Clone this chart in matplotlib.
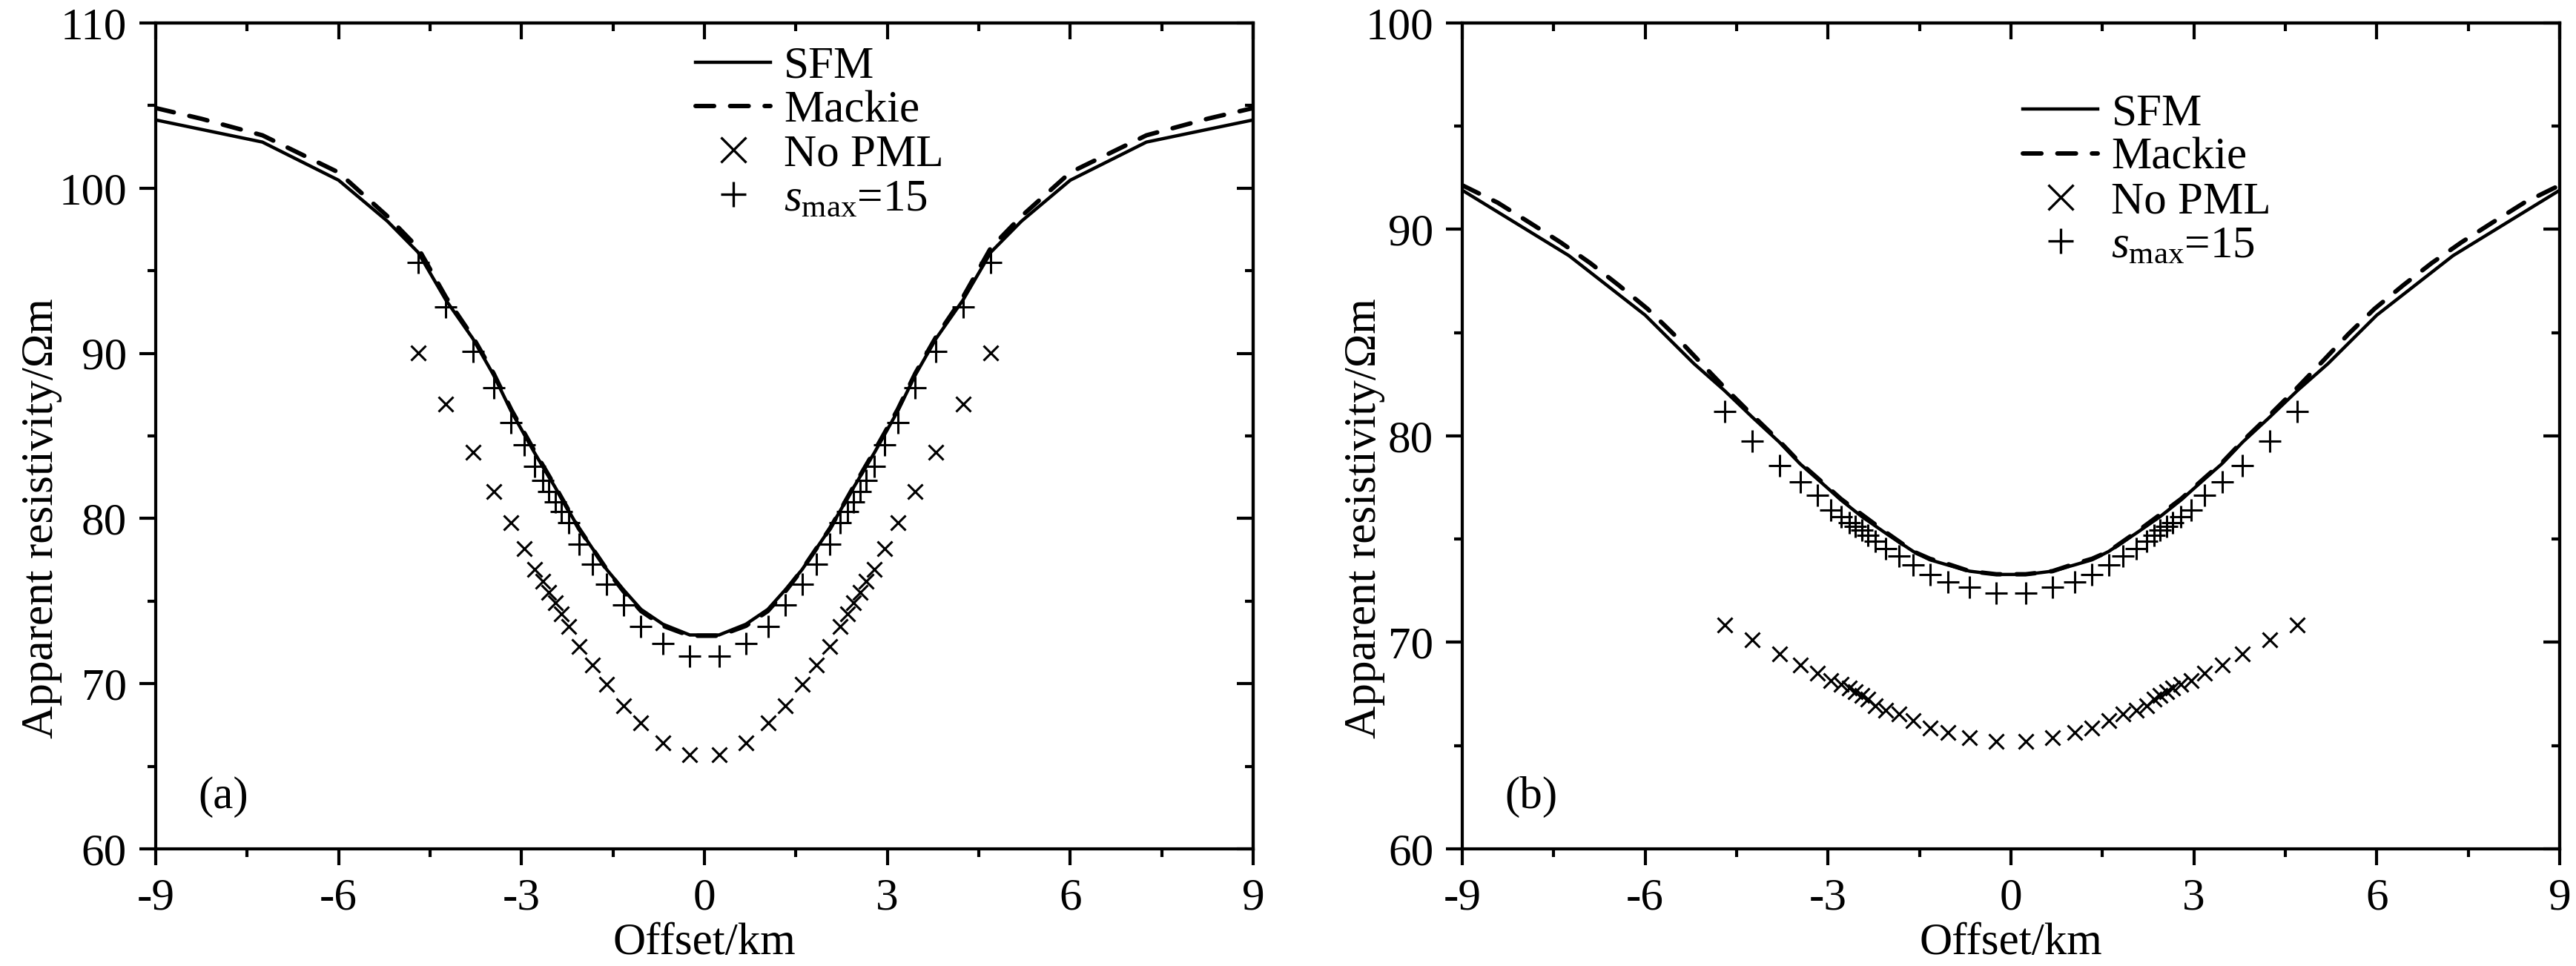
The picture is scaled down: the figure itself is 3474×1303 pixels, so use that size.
import matplotlib
matplotlib.use("Agg")
import matplotlib.pyplot as plt
from matplotlib.lines import Line2D
from matplotlib.ticker import MultipleLocator

plt.rcParams['font.family'] = ['Liberation Serif', 'DejaVu Serif']
plt.rcParams['mathtext.fontset'] = 'custom'
plt.rcParams['mathtext.rm'] = 'Liberation Serif'
plt.rcParams['mathtext.it'] = 'Liberation Serif:italic'
plt.rcParams['axes.unicode_minus'] = False

# ---------------- data ----------------
marker_x = [-4.70, -4.24, -3.80, -3.46, -3.17, -2.95, -2.79, -2.65, -2.55, -2.45,
            -2.35, -2.22, -2.06, -1.84, -1.60, -1.33, -1.04, -0.68, -0.24,
            0.24, 0.68, 1.04, 1.33, 1.60, 1.84, 2.06, 2.22, 2.35, 2.45,
            2.55, 2.65, 2.79, 2.95, 3.17, 3.46, 3.80, 4.24, 4.70]

sfm_x = [-9.0, -7.25, -6.0, -5.2, -4.7, -4.24, -3.8, -3.46, -3.17, -2.79, -2.45,
         -2.06, -1.6, -1.33, -1.04, -0.68, -0.24,
         0.24, 0.68, 1.04, 1.33, 1.6, 2.06, 2.45, 2.79, 3.17, 3.46, 3.8, 4.24,
         4.7, 5.2, 6.0, 7.25, 9.0]

# panel (a)
sfm_a = [104.13, 102.79, 100.48, 98.0, 96.13, 93.22, 90.9, 88.7, 86.5, 84.0, 81.9,
         79.4, 76.9, 75.7, 74.5, 73.6, 72.95,
         72.95, 73.6, 74.5, 75.7, 76.9, 79.4, 81.9, 84.0, 86.5, 88.7, 90.9, 93.22,
         96.13, 98.0, 100.48, 102.79, 104.13]

mackie_a_x = [-9.0, -8.25, -7.25, -6.0, -5.2, -4.7, -4.24, -3.8, -3.46, -3.17,
              -2.79, -2.45, -2.06, -1.6, -1.33, -1.04, -0.68, -0.24,
              0.24, 0.68, 1.04, 1.33, 1.6, 2.06, 2.45, 2.79, 3.17, 3.46,
              3.8, 4.24, 4.7, 5.2, 6.0, 7.25, 8.25, 9.0]
mackie_a = [104.85, 104.2, 103.2, 100.95, 98.3, 96.4, 93.4, 91.0, 88.8, 86.6,
            84.1, 81.95, 79.4, 76.9, 75.6, 74.4, 73.5, 72.9,
            72.9, 73.5, 74.4, 75.6, 76.9, 79.4, 81.95, 84.1, 86.6, 88.8,
            91.0, 93.4, 96.4, 98.3, 100.95, 103.2, 104.2, 104.85]

nopml_a = [90.04, 86.95, 84.03, 81.62, 79.73, 78.19, 76.9, 76.22, 75.53, 74.92,
           74.24, 73.47, 72.26, 71.15, 69.95, 68.66, 67.63, 66.4, 65.7,
           65.7, 66.4, 67.63, 68.66, 69.95, 71.15, 72.26, 73.47, 74.24, 74.92,
           75.53, 76.22, 76.9, 78.19, 79.73, 81.62, 84.03, 86.95, 90.04]

smax_a = [95.5, 92.79, 90.13, 87.9, 85.83, 84.46, 83.17, 82.31, 81.62, 81.02,
          80.42, 79.73, 78.45, 77.24, 76.04, 74.75, 73.46, 72.43, 71.66,
          71.66, 72.43, 73.46, 74.75, 76.04, 77.24, 78.45, 79.73, 80.42, 81.02,
          81.62, 82.31, 83.17, 84.46, 85.83, 87.9, 90.13, 92.79, 95.5]

# panel (b)
sfm_b = [91.9, 88.73, 85.85, 83.5, 82.2, 80.9, 79.7, 78.65, 77.9, 76.9, 76.1,
         75.3, 74.4, 74.0, 73.75, 73.45, 73.29,
         73.29, 73.45, 73.75, 74.0, 74.4, 75.3, 76.1, 76.9, 77.9, 78.65, 79.7, 80.9,
         82.2, 83.5, 85.85, 88.73, 91.9]

mackie_b_x = [-9.0, -8.42, -7.9, -7.39, -6.9, -6.43, -5.96, -5.54, -5.12, -4.7,
              -4.24, -3.8, -3.46, -3.17, -2.79, -2.45, -2.06, -1.6, -1.33, -1.04,
              -0.68, -0.24,
              0.24, 0.68, 1.04, 1.33, 1.6, 2.06, 2.45, 2.79, 3.17, 3.46, 3.8,
              4.24, 4.7, 5.12, 5.54, 5.96, 6.43, 6.9, 7.39, 7.9, 8.42, 9.0]
mackie_b = [92.14, 91.3, 90.34, 89.38, 88.37, 87.29, 86.15, 84.95, 83.64, 82.35,
            81.0, 79.75, 78.7, 77.95, 76.95, 76.2, 75.35, 74.4, 74.05, 73.8,
            73.45, 73.3,
            73.3, 73.45, 73.8, 74.05, 74.4, 75.35, 76.2, 76.95, 77.95, 78.7, 79.75,
            81.0, 82.35, 83.64, 84.95, 86.15, 87.29, 88.37, 89.38, 90.34, 91.3, 92.14]

nopml_b = [70.83, 70.11, 69.46, 68.92, 68.5, 68.14, 67.96, 67.78, 67.6, 67.42,
           67.24, 66.94, 66.7, 66.52, 66.22, 65.86, 65.63, 65.39, 65.21,
           65.21, 65.39, 65.63, 65.86, 66.22, 66.52, 66.7, 66.94, 67.24, 67.42,
           67.6, 67.78, 67.96, 68.14, 68.5, 68.92, 69.46, 70.11, 70.83]

smax_b = [81.2, 79.75, 78.55, 77.77, 77.12, 76.4, 76.1, 75.8, 75.62, 75.44,
          75.2, 74.9, 74.54, 74.18, 73.76, 73.29, 72.93, 72.69, 72.39,
          72.39, 72.69, 72.93, 73.29, 73.76, 74.18, 74.54, 74.9, 75.2, 75.44,
          75.62, 75.8, 76.1, 76.4, 77.12, 77.77, 78.55, 79.75, 81.2]

xticks = [-9, -6, -3, 0, 3, 6, 9]
labels = ['SFM', 'Mackie', 'No PML', r'$s_{\mathrm{max}}$=15']

FS = 44

fig = plt.figure(figsize=(34.74, 13.03), dpi=100)
ax_a = fig.add_axes([0.06045, 0.12126, 0.42602, 0.85495])
ax_b = fig.add_axes([0.56765, 0.12126, 0.42602, 0.85495])

panels = [
    (ax_a, sfm_a, mackie_a_x, mackie_a, nopml_a, smax_a, (60, 110), '(a)', (0.492, 0.972), -0.085),
    (ax_b, sfm_b, mackie_b_x, mackie_b, nopml_b, smax_b, (60, 100), '(b)', (0.511, 0.915), -0.07),
]

for ax, sfm, mx, mk, npml, smx, ylim, tag, legpos, ylx in panels:
    ax.plot(sfm_x, sfm, color='k', lw=3.2, solid_joinstyle='miter')
    ax.plot(mx, mk, color='k', lw=4.3, linestyle=(0, (4.2, 3.6)), dash_capstyle='round')
    ax.plot(marker_x, npml, ls='none', marker='x', ms=14, mew=2.2, color='k')
    ax.plot(marker_x, smx, ls='none', marker='+', ms=22, mew=2.2, color='k')

    ax.set_xlim(-9, 9)
    ax.set_ylim(*ylim)
    ax.set_xticks(xticks)
    ax.xaxis.set_minor_locator(MultipleLocator(1.5))
    ax.yaxis.set_major_locator(MultipleLocator(10))
    ax.yaxis.set_minor_locator(MultipleLocator(5))
    for s in ax.spines.values():
        s.set_linewidth(3.0)
    ax.tick_params(which='both', direction='out', width=3.0, labelsize=FS, pad=12,
                   top=False, right=False)
    ax.tick_params(which='major', length=16)
    ax.tick_params(which='minor', length=8)
    # inward ticks on top and right
    sec_x = ax.secondary_xaxis('top')
    sec_x.set_xticks(xticks)
    sec_x.xaxis.set_minor_locator(MultipleLocator(1.5))
    sec_x.tick_params(which='both', direction='in', width=3.0, labeltop=False)
    sec_x.tick_params(which='major', length=16)
    sec_x.tick_params(which='minor', length=8)
    sec_x.spines['top'].set_linewidth(3.0)
    sec_y = ax.secondary_yaxis('right')
    sec_y.yaxis.set_major_locator(MultipleLocator(10))
    sec_y.yaxis.set_minor_locator(MultipleLocator(5))
    sec_y.tick_params(which='both', direction='in', width=3.0, labelright=False)
    sec_y.tick_params(which='major', length=16)
    sec_y.tick_params(which='minor', length=8)
    sec_y.spines['right'].set_linewidth(3.0)

    ax.set_xlabel('Offset/km', fontsize=FS, labelpad=4)
    ax.set_ylabel('Apparent resistivity/\u03a9m', fontsize=FS, labelpad=10)
    ax.yaxis.set_label_coords(ylx, 0.40)
    ax.text(0.039, 0.063, tag, transform=ax.transAxes, fontsize=FS,
            ha='left', va='center')

    handles = [
        Line2D([], [], color='k', lw=3.2),
        Line2D([], [], color='k', lw=4.3, linestyle=(0, (4.2, 3.6)), dash_capstyle='round'),
        Line2D([], [], ls='none', marker='x', ms=24, mew=2.4, color='k'),
        Line2D([], [], ls='none', marker='+', ms=24, mew=2.4, color='k'),
    ]
    ax.legend(handles, labels, loc='upper left', bbox_to_anchor=legpos,
              frameon=False, fontsize=FS, handlelength=1.65, handletextpad=0.3,
              labelspacing=0.06, borderpad=0, borderaxespad=0)

fig.savefig('out.png', dpi=100)
